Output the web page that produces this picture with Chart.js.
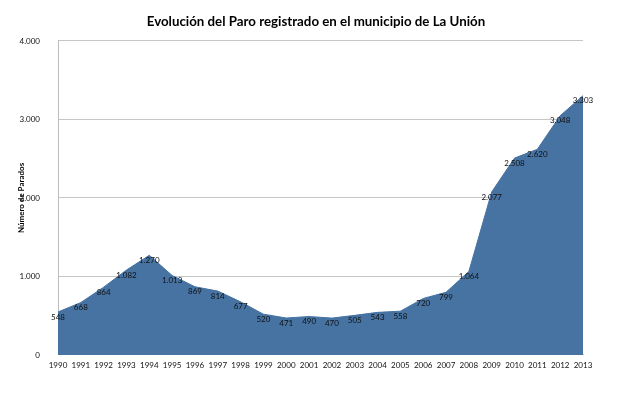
<!DOCTYPE html>
<html>
<head>
<meta charset="utf-8">
<script src="https://cdn.jsdelivr.net/npm/chart.js@4"></script>
<style>
  html, body { margin: 0; padding: 0; background: #fff; }
  #wrap { width: 640px; height: 399px; }
</style>
</head>
<body>
<div id="wrap"><canvas id="c"></canvas></div>
<script>
// Paro registrado, La Unión
const years = ['1990','1991','1992','1993','1994','1995','1996','1997','1998','1999','2000','2001',
               '2002','2003','2004','2005','2006','2007','2008','2009','2010','2011','2012','2013'];
const parados = [548, 668, 864, 1082, 1270, 1013, 869, 814, 677, 520, 471, 490,
                 470, 505, 543, 558, 720, 799, 1064, 2077, 2508, 2620, 3048, 3303];
const yTicks = [0, 1000, 2000, 3000, 4000];

const fmt = v => String(v).replace(/\B(?=(\d{3})+(?!\d))/g, '.');
const FONT = 'Lato, "Open Sans", sans-serif';

// etiquetas de datos sobre cada punto
const pointLabels = {
  id: 'pointLabels',
  afterDatasetsDraw(chart) {
    const ctx = chart.ctx;
    const meta = chart.getDatasetMeta(0);
    ctx.save();
    ctx.font = '8px ' + FONT;
    ctx.fillStyle = '#111';
    ctx.textAlign = 'center';
    ctx.textBaseline = 'middle';
    meta.data.forEach((pt, i) => {
      ctx.fillText(fmt(parados[i]), pt.x, pt.y + 5);
    });
    ctx.restore();
  }
};

new Chart(document.getElementById('c'), {
  type: 'line',
  data: {
    labels: years,
    datasets: [{
      data: parados,
      fill: 'origin',
      backgroundColor: '#4673a2',
      borderColor: '#4673a2',
      borderWidth: 1,
      pointRadius: 0,
      tension: 0
    }]
  },
  options: {
    responsive: true,
    maintainAspectRatio: false,
    animation: false,
    layout: { padding: { left: 0, right: 8, top: 0, bottom: 0 } },
    plugins: {
      legend: { display: false },
      tooltip: { enabled: false },
      title: {
        display: true,
        text: 'Evolución del Paro registrado en el municipio de La Unión',
        color: '#000',
        font: { family: FONT, size: 13.3, weight: 'bold' },
        padding: { top: 14, bottom: 11 }
      }
    },
    scales: {
      x: {
        offset: false,
        grid: { display: false, drawTicks: false },
        border: { display: true, color: '#bdbdbd' },
        ticks: { color: '#111', font: { family: FONT, size: 8 }, padding: 6, maxRotation: 0, autoSkip: false },
        afterFit: s => { s.height = 44; }
      },
      y: {
        min: 0,
        max: 4000,
        afterBuildTicks: s => { s.ticks = yTicks.map(v => ({ value: v })); },
        grid: { color: '#c6c6c6', drawTicks: false },
        border: { display: true, color: '#bdbdbd' },
        ticks: { color: '#111', font: { family: FONT, size: 8 }, padding: 18, callback: v => fmt(v) },
        title: {
          display: true,
          text: 'Número de Parados',
          color: '#000',
          font: { family: FONT, size: 8, weight: 'bold' },
          padding: { top: 17, bottom: 0 }
        },
        afterFit: s => { s.width = 58; }
      },
      // eje vacío a la derecha para dejar el margen
      yR: {
        position: 'right',
        display: true,
        grid: { display: false, drawTicks: false },
        border: { display: false },
        ticks: { display: false },
        afterFit: s => { s.width = 49; }
      }
    }
  },
  plugins: [pointLabels]
});
</script>
</body>
</html>
